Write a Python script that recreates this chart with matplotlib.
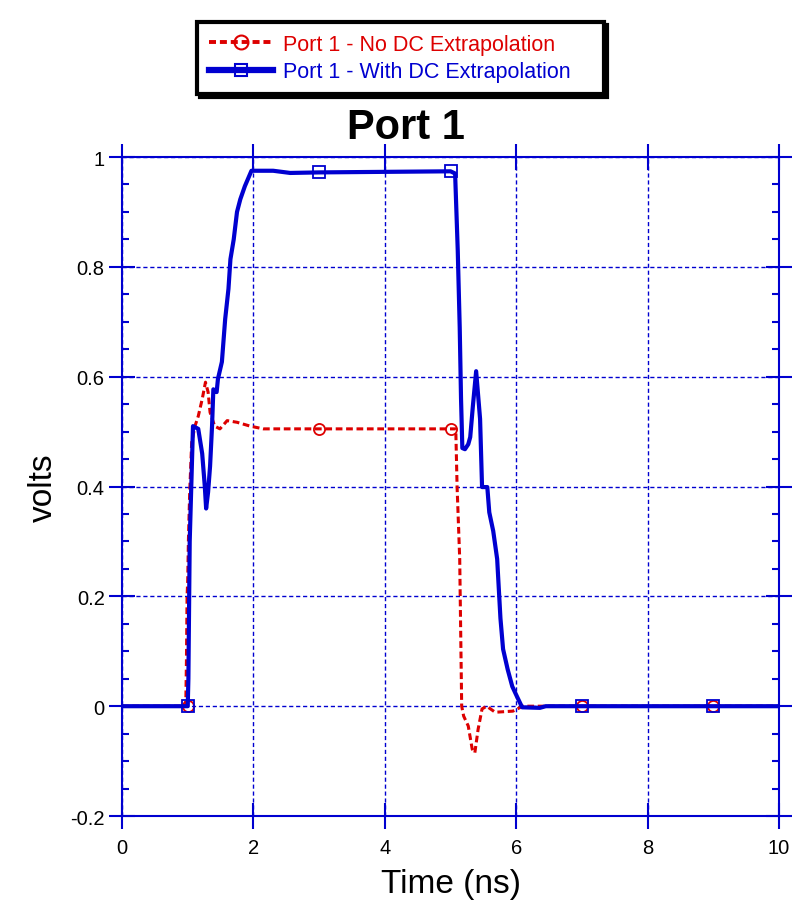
import numpy as np
import matplotlib.pyplot as plt
from matplotlib.lines import Line2D
from matplotlib.ticker import MultipleLocator, FixedLocator, FixedFormatter

plt.rcParams['font.family'] = ['Liberation Sans', 'DejaVu Sans']

# Port 1 step response, no DC extrapolation (time in ns, volts)
red_t = [0, 0.97, 0.98, 0.99, 1.00, 1.01, 1.03, 1.06, 1.11, 1.16, 1.22, 1.27,
         1.31, 1.34, 1.41, 1.49, 1.60, 1.75, 1.95, 2.15, 3.0, 4.0, 5.0, 5.08,
         5.10, 5.14, 5.17, 5.20, 5.27, 5.33, 5.37, 5.42, 5.48, 5.55, 5.68,
         5.95, 6.10, 10.0]
red_v = [0, 0, 0.08, 0.20, 0.23, 0.30, 0.39, 0.48, 0.51, 0.528, 0.559, 0.59,
         0.572, 0.535, 0.51, 0.505, 0.52, 0.517, 0.51, 0.505, 0.505, 0.505,
         0.505, 0.505, 0.40, 0.268, 0.0, -0.018, -0.036, -0.078, -0.085,
         -0.042, -0.005, 0.0, -0.011, -0.009, 0.0, 0.0]

# Port 1 step response with DC extrapolation
blue_t = [0, 1.00, 1.01, 1.03, 1.08, 1.16, 1.22, 1.26, 1.28, 1.31, 1.34, 1.37,
          1.39, 1.44, 1.46, 1.52, 1.57, 1.62, 1.65, 1.70, 1.75, 1.80, 1.87,
          1.97, 2.30, 2.56, 3.0, 4.0, 5.0, 5.07, 5.11, 5.14, 5.16, 5.18, 5.22,
          5.27, 5.30, 5.34, 5.39, 5.45, 5.48, 5.56, 5.59, 5.65, 5.71, 5.76,
          5.80, 5.87, 5.94, 6.01, 6.09, 6.36, 6.45, 10.0]
blue_v = [0, 0, 0.05, 0.30, 0.51, 0.505, 0.46, 0.40, 0.36, 0.39, 0.437, 0.51,
          0.577, 0.572, 0.596, 0.627, 0.705, 0.76, 0.814, 0.85, 0.90, 0.923,
          0.947, 0.975, 0.975, 0.971, 0.972, 0.973, 0.974, 0.97, 0.83, 0.69,
          0.56, 0.47, 0.468, 0.477, 0.49, 0.546, 0.61, 0.523, 0.399, 0.399,
          0.353, 0.319, 0.268, 0.16, 0.104, 0.067, 0.036, 0.018, -0.002,
          -0.003, 0.0, 0.0]

# marker positions every 2 ns
mark_t = [1, 3, 5, 7, 9]
red_mark_v = [0, 0.505, 0.505, 0, 0]
blue_mark_v = [0, 0.972, 0.974, 0, 0]

x_ticks = [0, 2, 4, 6, 8, 10]
y_ticks = [-0.2, 0, 0.2, 0.4, 0.6, 0.8, 1.0]
y_labels = ['-0.2', '0', '0.2', '0.4', '0.6', '0.8', '1']
series_names = ['Port 1 - No DC Extrapolation', 'Port 1 - With DC Extrapolation']

RED = '#dd0000'
BLUE = '#0000d0'
RED_DASH = (0, (2.2, 1.2))

fig = plt.figure(figsize=(7.94, 9.03), dpi=100)
ax = fig.add_axes([0.1537, 0.0952, 0.9811 - 0.1537, 0.825 - 0.0952])

ax.plot(red_t, red_v, color=RED, lw=2.2, linestyle=RED_DASH)
ax.plot(mark_t, red_mark_v, 'o', color=RED, mfc='none', ms=8, mew=1.3)
ax.plot(blue_t, blue_v, color=BLUE, lw=3)
ax.plot(mark_t, blue_mark_v, 's', color=BLUE, mfc='none', ms=8.5, mew=1.3)

ax.set_xlim(0, 10)
ax.set_ylim(-0.2, 1.0)
ax.xaxis.set_major_locator(FixedLocator(x_ticks))
ax.yaxis.set_major_locator(FixedLocator(y_ticks))
ax.yaxis.set_major_formatter(FixedFormatter(y_labels))
ax.yaxis.set_minor_locator(MultipleLocator(0.05))

ax.grid(True, which='major', color=BLUE, lw=1.0, linestyle=(0, (3, 2)))
for s in ax.spines.values():
    s.set_color(BLUE)
    s.set_linewidth(1.5)

ax.tick_params(which='major', direction='inout', length=19, width=1.5,
               color=BLUE, labelcolor='black', labelsize=14.5,
               top=True, right=True)
ax.tick_params(axis='x', which='major', pad=6)
ax.tick_params(axis='y', which='major', pad=3)
ax.tick_params(axis='y', which='minor', direction='in', length=5, width=1.5,
               color=BLUE, left=True, right=True)
ax.tick_params(axis='x', which='minor', bottom=False, top=False)

ax.set_xlabel('Time (ns)', fontsize=24, labelpad=8)
ax.set_ylabel('volts', fontsize=24, labelpad=8)

fig.text(0.511, 0.858, 'Port 1', fontsize=30, fontweight='bold',
         ha='center', va='center')

# legend keys are drawn a bit heavier than the plotted lines
handles = [
    Line2D([], [], color=RED, lw=2.8, linestyle=(0, (1.8, 1.0)), marker='o',
           ms=10, mfc='none', mew=1.5),
    Line2D([], [], color=BLUE, lw=4.5, marker='s', ms=9, mfc='none', mew=1.5),
]
leg = fig.legend(handles, series_names,
                 loc='upper left', bbox_to_anchor=(0.248, 0.888, 0.513, 0.0865),
                 mode='expand', fontsize=15.5, frameon=True, fancybox=False,
                 shadow={'color': 'black', 'alpha': 1.0},
                 handlelength=3.0, handletextpad=0.45, borderpad=0.55,
                 labelspacing=0.3, borderaxespad=0)
leg.get_frame().set_edgecolor('black')
leg.get_frame().set_linewidth(3)
for txt, c in zip(leg.get_texts(), [RED, BLUE]):
    txt.set_color(c)

fig.savefig('out.png', dpi=100)
